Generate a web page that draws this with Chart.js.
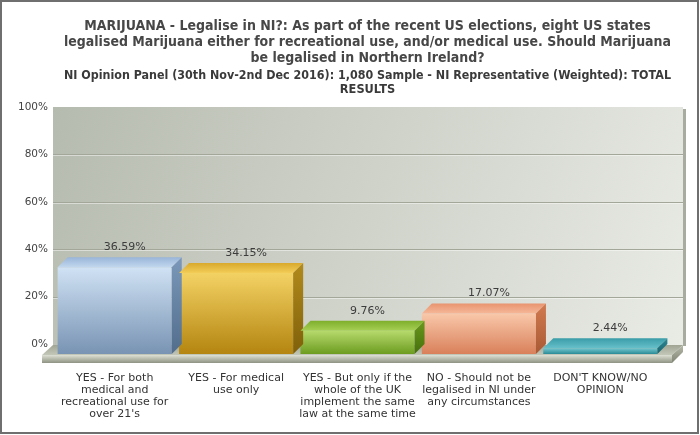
<!DOCTYPE html>
<html>
<head>
<meta charset="utf-8">
<script src="https://cdn.jsdelivr.net/npm/chart.js@4/dist/chart.umd.min.js"></script>
<style>
  html, body { margin: 0; padding: 0; background: #fff; }
  canvas { display: block; }
</style>
</head>
<body>
<canvas id="chart" width="700" height="435"></canvas>
<script>
// answers (x-axis categories, wrapped as in the original)
const categories = [
  ["YES - For both", "medical and", "recreational use for", "over 21's"],
  ["YES - For medical", "use only"],
  ["YES - But only if the", "whole of the UK", "implement the same", "law at the same time"],
  ["NO - Should not be", "legalised in NI under", "any circumstances"],
  ["DON'T KNOW/NO", "OPINION"]
];
// % of respondents
const values = [36.59, 34.15, 9.76, 17.07, 2.44];
const yTicks = [0, 20, 40, 60, 80, 100];

const titleLines = [
  "MARIJUANA - Legalise in NI?: As part of the recent US elections, eight US states",
  "legalised Marijuana either for recreational use, and/or medical use. Should Marijuana",
  "be legalised in Northern Ireland?"
];
const subtitleLines = [
  "NI Opinion Panel (30th Nov-2nd Dec 2016): 1,080 Sample - NI Representative (Weighted): TOTAL",
  "RESULTS"
];

// bar colours: front top, front bottom, top face back, top face front, side top, side bottom
const barColors = [
  ["#d0e2f4", "#7893b3", "#98b4d8", "#c2d7ee", "#7b98ba", "#526d8c"],
  ["#f3d264", "#b48510", "#d9a92c", "#f2cd58", "#b28a1c", "#7f600a"],
  ["#b6da6c", "#6c9c20", "#7fae2c", "#a6d054", "#69981c", "#46700c"],
  ["#f9c8aa", "#d9805a", "#e89470", "#f6b898", "#d27a50", "#a85a34"],
  ["#74c6ce", "#2a8c98", "#3a9ca8", "#66c0ca", "#2c8894", "#1a6470"]
];

const DEPTH = 10;

function faceGradient(ctx, x0, y0, x1, y1, c0, c1) {
  const g = ctx.createLinearGradient(x0, y0, x1, y1);
  g.addColorStop(0, c0);
  g.addColorStop(1, c1);
  return g;
}

function poly(ctx, pts, fill) {
  ctx.beginPath();
  ctx.moveTo(pts[0][0], pts[0][1]);
  for (let i = 1; i < pts.length; i++) ctx.lineTo(pts[i][0], pts[i][1]);
  ctx.closePath();
  ctx.fillStyle = fill;
  ctx.fill();
}

// back wall, floor and 3d faces of the bars
const box3d = {
  id: "box3d",
  beforeDraw(chart) {
    const { ctx, chartArea: a, scales: { y } } = chart;
    ctx.save();
    ctx.fillStyle = "#fff";
    ctx.fillRect(0, 0, chart.width, chart.height);
    ctx.strokeStyle = "#6f6f6f";
    ctx.lineWidth = 2;
    ctx.strokeRect(1, 1, chart.width - 3, chart.height - 3);

    const L = a.left - 11, R = a.right + 12;
    ctx.fillStyle = "#a8ac9f";
    ctx.fillRect(R, a.top + 2, 3, a.bottom - a.top);
    ctx.fillStyle = faceGradient(ctx, L, a.top, R, a.bottom, "#b6bbaf", "#e9ebe5");
    ctx.fillRect(L, a.top, R - L, a.bottom - a.top + 2);

    ctx.lineWidth = 1;
    y.ticks.forEach(t => {
      if (t.value === 0 || t.value === 100) return;
      const py = Math.round(y.getPixelForValue(t.value)) + 0.5;
      ctx.strokeStyle = "#a2a799";
      ctx.beginPath(); ctx.moveTo(L, py); ctx.lineTo(R, py); ctx.stroke();
      ctx.strokeStyle = "rgba(255,255,255,0.45)";
      ctx.beginPath(); ctx.moveTo(L, py + 1); ctx.lineTo(R, py + 1); ctx.stroke();
    });
    ctx.restore();
  },
  beforeDatasetsDraw(chart) {
    const { ctx, chartArea: a } = chart;
    const bl = a.left - 11, br = a.right + 12;
    const fl = bl - 11, fr = br - 11;
    const by = a.bottom + 1, fy = a.bottom + 11, fb = a.bottom + 19;
    ctx.save();
    poly(ctx, [[fl, fy], [fr, fy], [br, by], [bl, by]],
      faceGradient(ctx, 0, by, 0, fy, "#9fa493", "#c3c7b8"));
    poly(ctx, [[fl, fy], [fr, fy], [fr, fb], [fl, fb]],
      faceGradient(ctx, 0, fy, 0, fb, "#dde0d4", "#8e9382"));
    poly(ctx, [[fr, fy], [br, by], [br, by + 7], [fr, fb]],
      faceGradient(ctx, 0, by, 0, fb, "#b6baa9", "#7f8474"));
    ctx.restore();
    // front faces are the library's bars moved forward
    ctx.save();
    ctx.translate(-DEPTH, DEPTH);
  },
  afterDatasetsDraw(chart) {
    const { ctx } = chart;
    ctx.restore();
    const meta = chart.getDatasetMeta(0);
    ctx.save();
    meta.data.forEach((bar, i) => {
      const { x, y, base, width } = bar.getProps(["x", "y", "base", "width"], true);
      const c = barColors[i];
      const x1 = x - width / 2, x2 = x + width / 2, d = DEPTH;
      poly(ctx, [[x1 - d, y + d], [x2 - d, y + d], [x2, y], [x1, y]],
        faceGradient(ctx, 0, y, 0, y + d, c[2], c[3]));
      poly(ctx, [[x2 - d, y + d], [x2, y], [x2, base], [x2 - d, base + d]],
        faceGradient(ctx, 0, y, 0, base + d, c[4], c[5]));
      ctx.fillStyle = "#3d3d3d";
      ctx.font = "11px 'DejaVu Sans'";
      ctx.textAlign = "center";
      ctx.textBaseline = "middle";
      ctx.fillText(values[i].toFixed(2) + "%", x, y - 10);
    });
    ctx.restore();
  }
};

new Chart(document.getElementById("chart"), {
  type: "bar",
  data: {
    labels: categories,
    datasets: [{
      data: values,
      clip: false,
      backgroundColor: ctx => {
        const chart = ctx.chart;
        if (!chart.chartArea) return barColors[ctx.dataIndex][0];
        const y = chart.scales.y;
        const top = y.getPixelForValue(values[ctx.dataIndex]);
        const c = barColors[ctx.dataIndex];
        return faceGradient(chart.ctx, 0, top, 0, y.getPixelForValue(0), c[0], c[1]);
      },
      borderWidth: 0,
      categoryPercentage: 1,
      barPercentage: 0.94
    }]
  },
  options: {
    responsive: false,
    animation: false,
    layout: { padding: { left: 0, right: 29, top: 0, bottom: 0 } },
    scales: {
      x: {
        grid: { display: false },
        border: { display: false },
        ticks: {
          color: "#333",
          font: { family: "DejaVu Sans", size: 11, lineHeight: "12px" },
          padding: 20,
          labelOffset: -DEPTH,
          maxRotation: 0,
          autoSkip: false
        },
        afterFit: s => { s.height = 91; }
      },
      y: {
        min: 0,
        max: 100,
        afterBuildTicks: s => { s.ticks = yTicks.map(v => ({ value: v })); },
        grid: { display: false },
        border: { display: false },
        ticks: {
          color: "#444",
          font: { family: "DejaVu Sans", size: 10.5 },
          padding: 8,
          callback: v => v + "%"
        },
        afterFit: s => { s.width = 64; }
      }
    },
    plugins: {
      legend: { display: false },
      tooltip: { enabled: false },
      title: {
        display: true,
        fullSize: false,
        text: titleLines,
        color: "#474747",
        font: { family: "DejaVu Sans Condensed", weight: "bold", size: 14, lineHeight: "16px" },
        padding: { top: 18, bottom: 3 }
      },
      subtitle: {
        display: true,
        fullSize: false,
        text: subtitleLines,
        color: "#3a3a3a",
        font: { family: "DejaVu Sans", weight: "bold", size: 11.4, lineHeight: "14px" },
        padding: { top: 0, bottom: 10 }
      }
    }
  },
  plugins: [box3d]
});
</script>
</body>
</html>
